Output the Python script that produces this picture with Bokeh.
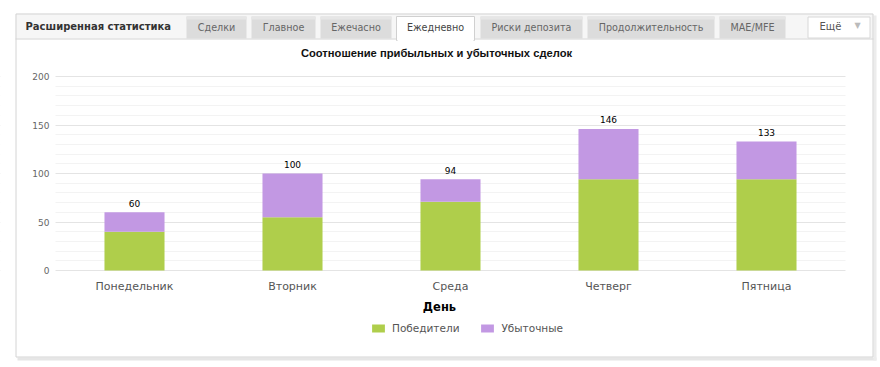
from bokeh.plotting import figure
from bokeh.models import (ColumnDataSource, Range1d, FixedTicker, LabelSet, Legend, LegendItem,
                          LinearAxis, Grid)
from bokeh.core.properties import value
from bokeh.embed import file_html
from bokeh.resources import INLINE

# ---- data ----
days = ["Понедельник", "Вторник", "Среда", "Четверг", "Пятница"]
winners = [40, 55, 71, 94, 94]
losers = [20, 45, 23, 52, 39]
y_ticks = [0, 50, 100, 150, 200]
series_names = ["Победители", "Убыточные"]
tabs = ["Сделки", "Главное", "Ежечасно", "Ежедневно", "Риски депозита", "Продолжительность", "MAE/MFE"]
active_tab = "Ежедневно"
header_title = "Расширенная статистика"
chart_title = "Соотношение прибыльных и убыточных сделок"
x_label = "День"
more_label = "Ещё"

totals = [w + l for w, l in zip(winners, losers)]
pos = list(range(len(days)))

GREEN = "#afce4b"
PURPLE = "#c298e3"

W, H = 878, 364
# plot area in pixels: category pitch 158 px, first centre at 134; y: 0 -> 270, 200 -> 76
PITCH, X0 = 158.0, 134.0
PY0, PY200 = 270.0, 76.0
k = (PY0 - PY200) / 200.0
x_range = Range1d(-X0 / PITCH, (W - X0) / PITCH)
y_range = Range1d(-(H - PY0) / k, 200 + PY200 / k)

p = figure(width=W, height=H, x_range=x_range, y_range=y_range,
           output_backend="svg", toolbar_location=None,
           x_axis_location=None, y_axis_location=None,
           min_border=0, min_border_left=0, min_border_right=0,
           min_border_top=0, min_border_bottom=0)
p.outline_line_color = None
p.background_fill_color = "white"
p.border_fill_color = "white"
p.extra_x_ranges = {"px": Range1d(0, W)}
p.extra_y_ranges = {"px": Range1d(H, 0)}

# drop any default grids
p.center = [r for r in p.center if not isinstance(r, Grid)]

# ---- grid ----
yticker = FixedTicker(ticks=y_ticks, minor_ticks=list(range(0, 201, 10)))
ygrid = Grid(dimension=1, ticker=yticker, grid_line_color="#e4e4e4",
             minor_grid_line_color="#f3f3f3")
p.add_layout(ygrid)

PX = dict(x_range_name="px", y_range_name="px")

# white masks so grid lines only span the plot area
p.quad(left=[0, 845], right=[55, W], top=[60, 60], bottom=[285, 285],
       fill_color="white", line_color=None, **PX)

# ---- bars ----
src = ColumnDataSource(dict(x=pos, win=winners, loss=losers, total=totals,
                            txt=[str(t) for t in totals]))
rs = p.vbar_stack(["win", "loss"], x="x", width=0.38, color=[GREEN, PURPLE],
                  line_color=None, source=src)

labels = LabelSet(x="x", y="total", text="txt", source=src, text_align="center",
                  text_baseline="middle", y_offset=9, text_font_size=value("9px"),
                  text_font=value("DejaVu Sans"), text_color="#000000")
p.add_layout(labels)

# ---- axes (fixed inside the frame) ----
yaxis = LinearAxis(fixed_location=-0.5, ticker=FixedTicker(ticks=y_ticks), bounds=(0, 200))
yaxis.axis_line_color = None
yaxis.major_tick_line_color = None
yaxis.minor_tick_line_color = None
yaxis.major_tick_out = 0
yaxis.major_tick_in = 0
yaxis.minor_tick_out = 0
yaxis.major_label_text_font_size = "9px"
yaxis.major_label_text_font = "DejaVu Sans"
yaxis.major_label_text_color = "#666666"
yaxis.major_label_standoff = 6
p.add_layout(yaxis, "left")

xaxis = LinearAxis(fixed_location=0, ticker=FixedTicker(ticks=pos),
                   major_label_overrides={i: d for i, d in zip(pos, days)})
xaxis.axis_line_color = None
xaxis.major_tick_line_color = None
xaxis.minor_tick_line_color = None
xaxis.major_tick_out = 0
xaxis.major_tick_in = 0
xaxis.minor_tick_out = 0
xaxis.major_label_text_font_size = "11px"
xaxis.major_label_text_font = "DejaVu Sans"
xaxis.major_label_text_color = "#555555"
xaxis.major_label_standoff = 9
xaxis.axis_label = x_label
xaxis.axis_label_text_font = "DejaVu Sans"
xaxis.axis_label_text_font_style = "bold"
xaxis.axis_label_text_font_size = "11.5px"
xaxis.axis_label_text_color = "#000000"
xaxis.axis_label_standoff = 4
p.add_layout(xaxis, "below")

# ---- legend ----
legend = Legend(items=[LegendItem(label=series_names[0], renderers=[rs[0]]),
                       LegendItem(label=series_names[1], renderers=[rs[1]])],
                orientation="horizontal", location=(370, H - 334),
                border_line_color=None, background_fill_alpha=0,
                padding=0, margin=0, spacing=20, label_standoff=6,
                glyph_width=16, glyph_height=10, label_height=12,
                label_text_font="DejaVu Sans", label_text_font_size="10.5px",
                label_text_color="#555555")
p.add_layout(legend)

# ---- panel decoration (pixel space) ----
def txt(x, y, s, size="10.5px", color="#666666", bold=False, align="center", font="DejaVu Sans"):
    p.text(x=[x], y=[y], text=[s], text_font=value(font), text_font_size=value(size),
           text_color=color, text_font_style="bold" if bold else "normal",
           text_align=align, text_baseline="middle", **PX)

# shadows
p.quad(left=[17], right=[876], top=[357], bottom=[360], fill_color="#e6e6e6", line_color=None, **PX)
p.quad(left=[873], right=[876], top=[15], bottom=[360], fill_color="#ececec", line_color=None, **PX)
# header band
p.quad(left=[15], right=[873], top=[13], bottom=[39], fill_color="#f6f6f6", line_color=None, **PX)
p.quad(left=[15], right=[873], top=[38], bottom=[39], fill_color="#d8d8d8", line_color=None, **PX)

tab_x = [(186, 246), (251, 315), (320, 391), (396, 474), (480, 582), (587, 714), (719, 785)]
for name, (l, r) in zip(tabs, tab_x):
    if name == active_tab:
        p.quad(left=[l], right=[r], top=[16], bottom=[40], fill_color="white",
               line_color="#d0d0d0", **PX)
        p.quad(left=[l + 1], right=[r - 1], top=[37], bottom=[41], fill_color="white",
               line_color=None, **PX)
        txt((l + r) / 2, 27, name, size="9.6px", color="#444444")
    else:
        p.quad(left=[l], right=[r], top=[16], bottom=[38], fill_color="#dcdcdc",
               line_color=None, **PX)
        p.quad(left=[l], right=[r], top=[16], bottom=[19], fill_color="#e6e6e6",
               line_color=None, **PX)
        txt((l + r) / 2, 27, name, size="9.6px", color="#666666")

txt(25, 26, header_title, size="10px", color="#333333", bold=True, align="left")

# "more" button
p.quad(left=[807.5], right=[869.5], top=[16.5], bottom=[37.5], fill_color="white",
       line_color="#d8d8d8", **PX)
txt(830, 26, more_label, size="10px", color="#555555")
txt(857, 25, "▼", size="8px", color="#bbbbbb")

# panel outline
p.quad(left=[15.5], right=[872.5], top=[13.5], bottom=[356.5], fill_alpha=0,
       line_color="#d4d4d4", **PX)

# chart title
txt(436, 52, chart_title, size="11.2px", color="#111111", bold=True, font="Liberation Sans")

open("out.html", "w").write(file_html(p, INLINE))
